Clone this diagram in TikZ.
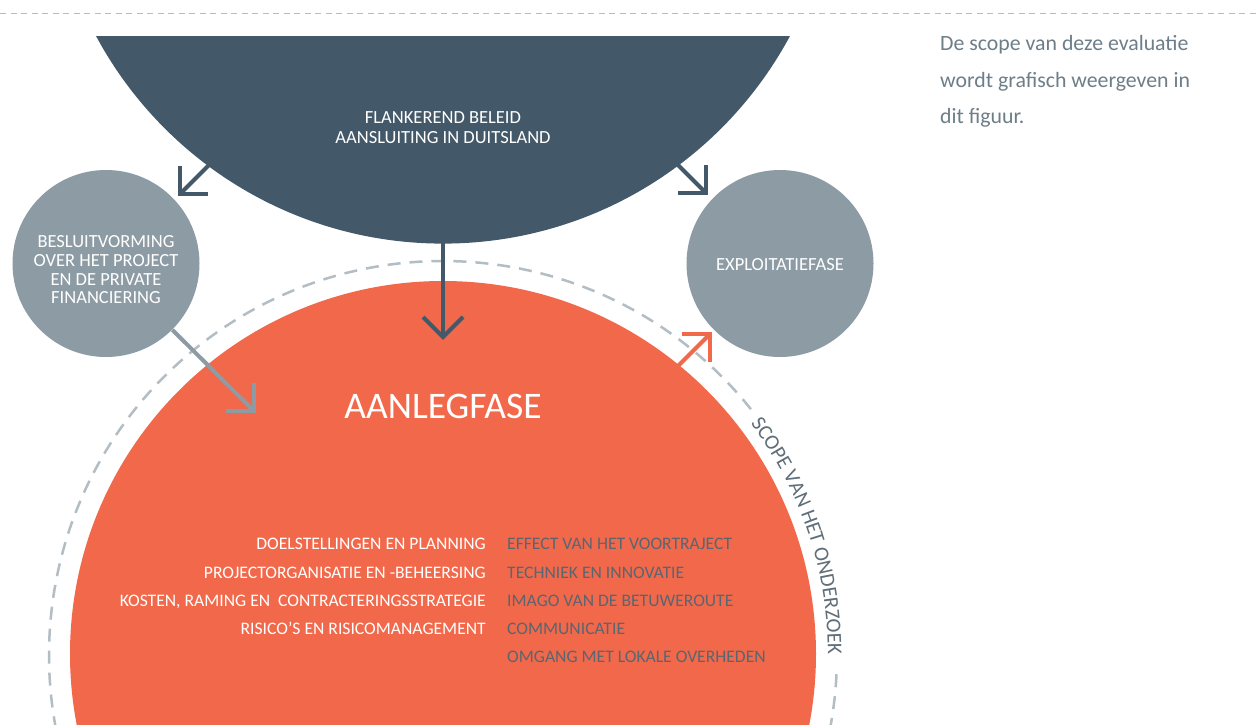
\documentclass[tikz,border=0pt]{standalone}
\usepackage{fontspec}
\setmainfont{Carlito}
\usetikzlibrary{calc,decorations.text}
\definecolor{darkslate}{HTML}{435869}
\definecolor{grayc}{HTML}{8D9BA4}
\definecolor{orangec}{HTML}{F2684A}
\definecolor{dashc}{HTML}{B3BDC4}
\definecolor{listc}{HTML}{5A6570}
\definecolor{topc}{HTML}{6E7E89}
\definecolor{scopec}{HTML}{5F6E79}
\newcommand\scopefmt{\fontsize{21pt}{21pt}\selectfont\color{scopec}}
\newcommand\chevarrow[5]{%
  \draw[arrowln,#1] (#2) -- (#3);
  \draw[arrowln,#1] ($(#3)+(#4)$) -- (#3) -- ($(#3)+(#5)$);}
\begin{document}
\begin{tikzpicture}[x=1pt,y=-1pt,
  lbl/.style={text=white,inner sep=0pt,anchor=base,font=\fontsize{18.5pt}{19pt}\selectfont},
  listl/.style={text=white,inner sep=0pt,anchor=base east,font=\fontsize{17.6pt}{18pt}\selectfont},
  listr/.style={text=listc,inner sep=0pt,anchor=base west,font=\fontsize{17.6pt}{18pt}\selectfont},
  toptxt/.style={text=topc,inner sep=0pt,anchor=base west,font=\fontsize{21.8pt}{22pt}\selectfont},
  graycirc/.style={circle,fill=grayc,minimum size=187pt,inner sep=0pt},
  arrowln/.style={line width=4pt,line cap=butt,line join=miter}]
\useasboundingbox (0,0) rectangle (1259,725);
\fill[white] (0,0) rectangle (1259,725);
% top dashed rule
\coordinate (tl) at (0,13.5);
\coordinate (tr) at (1259,13.5);
\draw[dashc,line width=1.3pt,dash pattern=on 6pt off 4.5pt] (tl) -- (tr);
% dark segment
\begin{scope}
  \clip (0,37) rectangle (1259,725);
  \fill[darkslate] (443,-150) circle[radius=393.6pt];
\end{scope}
% dashed scope circle
\coordinate (cc) at (443,655);
\draw[dashc,line width=2.5pt,dash pattern=on 13pt off 9pt] (cc) ++(38.6:394pt) arc[start angle=38.6,end angle=357.4,radius=394pt];
% orange circle
\fill[orangec] (443,654) circle[radius=373pt];
% gray circles
\node[graycirc] (bl) at (106,263.5) {};
\node[graycirc] (br) at (780,263.5) {};
% arrows
\coordinate (d1s) at (443,236);
\coordinate (d1t) at (443,337);
\chevarrow{darkslate}{d1s}{d1t}{-20,-20}{20,-20}
\coordinate (d2s) at (222,152);
\coordinate (d2t) at (180,194);
\chevarrow{darkslate}{d2s}{d2t}{0,-28}{28,0}
\coordinate (d3s) at (664,151);
\coordinate (d3t) at (706,193);
\chevarrow{darkslate}{d3s}{d3t}{0,-28}{-28,0}
\coordinate (gs) at (bl.-45);
\coordinate (gt) at (254,411);
\chevarrow{grayc}{gs}{gt}{0,-28}{-28,0}
\coordinate (os) at (668,376);
\coordinate (ot) at (710,334);
\chevarrow{orangec}{os}{ot}{0,28}{-28,0}
% texts dark segment
\node[lbl] (f1) at (443,124) {FLANKEREND BELEID};
\node[lbl] (f2) at (443,143) {AANSLUITING IN DUITSLAND};
% left gray circle texts
\node[lbl] (b1) at (106,247) {BESLUITVORMING};
\node[lbl] (b2) at (106,266) {OVER HET PROJECT};
\node[lbl] (b3) at (106,285) {EN DE PRIVATE};
\node[lbl] (b4) at (106,303) {FINANCIERING};
% right gray circle
\node[lbl] (e1) at (780,270) {EXPLOITATIEFASE};
% big title
\node[text=white,inner sep=0pt,anchor=base,font=\fontsize{37.5pt}{38pt}\selectfont] (al) at (443,418) {AANLEGFASE};
% lists
\node[listl] (l1) at (486,549.7) {DOELSTELLINGEN EN PLANNING};
\node[listl] (l2) at (486,578) {PROJECTORGANISATIE EN -BEHEERSING};
\node[listl] (l3) at (486,606.7) {KOSTEN, RAMING EN~ CONTRACTERINGSSTRATEGIE};
\node[listl] (l4) at (486,634.7) {RISICO’S EN RISICOMANAGEMENT};
\node[listr] (r1) at (507,549.7) {EFFECT VAN HET VOORTRAJECT};
\node[listr] (r2) at (507,578) {TECHNIEK EN INNOVATIE};
\node[listr] (r3) at (507,606.7) {IMAGO VAN DE BETUWEROUTE};
\node[listr] (r4) at (507,634.7) {COMMUNICATIE};
\node[listr] (r5) at (507,662.4) {OMGANG MET LOKALE OVERHEDEN};
% curved scope text
\path[decorate,decoration={text along path,text align=center,text={|\scopefmt|SCOPE VAN HET ONDERZOEK}}]
  (cc) ++(38.5:385pt) arc[start angle=38.5,end angle=-1.5,radius=385pt];
% top right text
\node[toptxt] (t1) at (940,51) {De scope van deze evaluatie};
\node[toptxt] (t2) at (940,87.5) {wordt grafisch weergeven in};
\node[toptxt] (t3) at (940,124) {dit figuur.};
\end{tikzpicture}
\end{document}
